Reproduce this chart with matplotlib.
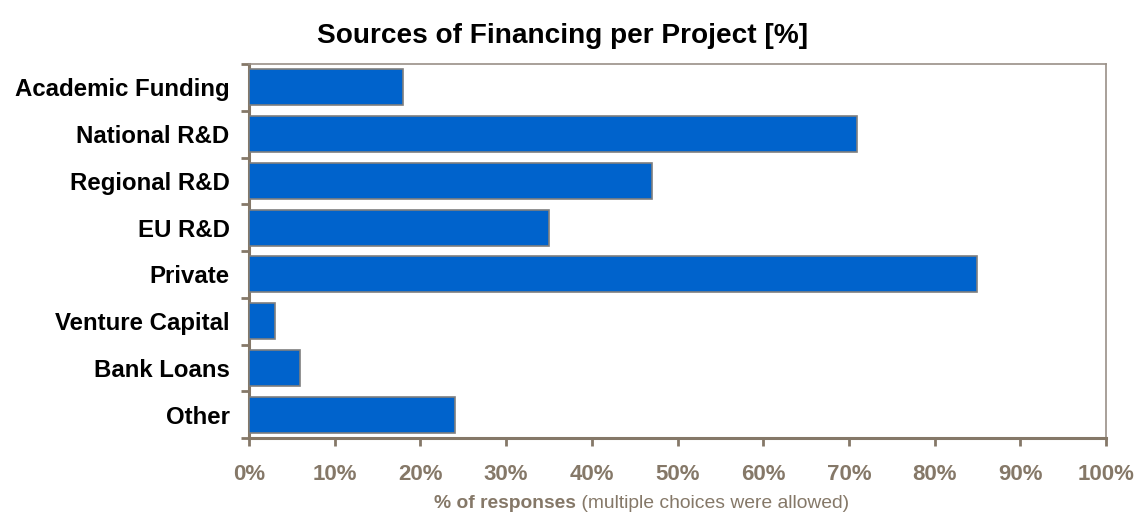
import matplotlib
matplotlib.use("Agg")
import matplotlib.pyplot as plt
from matplotlib.offsetbox import TextArea, HPacker, AnchoredOffsetbox

categories = ["Academic Funding", "National R&D", "Regional R&D", "EU R&D",
              "Private", "Venture Capital", "Bank Loans", "Other"]
values = [18, 71, 47, 35, 85, 3, 6, 24]
xticks = [0, 10, 20, 30, 40, 50, 60, 70, 80, 90, 100]
xtick_labels = [f"{v}%" for v in xticks]

plt.rcParams['font.family'] = ['Liberation Sans', 'DejaVu Sans']

fig = plt.figure(figsize=(11.37, 5.16), dpi=100)
ax = fig.add_axes([249/1137, 1-438/516, (1106-249)/1137, (438-64)/516])

n = len(categories)
ypos = list(range(n))
ax.barh(ypos, values, height=0.77, color="#0063CC", edgecolor="#7f7f7f", linewidth=1.2, zorder=3)
ax.set_ylim(n - 0.5, -0.5)
ax.set_xlim(0, 100)

axcol = "#857868"
ax.set_yticks(ypos)
ax.set_yticklabels(categories, fontsize=17.3, fontweight="bold", color="black")
ax.tick_params(axis="y", length=0, pad=14)
# category boundary ticks
ax.set_yticks([i - 0.5 for i in range(n + 1)], minor=True)
ax.tick_params(axis="y", which="minor", length=6, width=2, color=axcol, direction="out")

ax.set_xticks(xticks)
ax.set_xticklabels(xtick_labels, fontsize=16, fontweight="bold", color="#857868")
ax.tick_params(axis="x", length=6, width=2, color=axcol, direction="out", pad=13)

for s in ["left", "bottom"]:
    ax.spines[s].set_color(axcol)
    ax.spines[s].set_linewidth(2.2)
for s in ["top", "right"]:
    ax.spines[s].set_color("#9a9088")
    ax.spines[s].set_linewidth(1.2)

fig.text(563/1137, 1-36/516, "Sources of Financing per Project [%]",
         ha="center", va="center", fontsize=20.2, fontweight="bold")

t1 = TextArea("% of responses", textprops=dict(fontsize=13.9, fontweight="bold", color="#857868"))
t2 = TextArea(" (multiple choices were allowed)", textprops=dict(fontsize=13.9, color="#857868"))
box = HPacker(children=[t1, t2], align="baseline", pad=0, sep=0)
ab = AnchoredOffsetbox(loc="center", child=box, frameon=False,
                       bbox_to_anchor=(642/1137, 1-503/516),
                       bbox_transform=fig.transFigure, pad=0, borderpad=0)
fig.add_artist(ab)

fig.savefig("out.png", dpi=100)
